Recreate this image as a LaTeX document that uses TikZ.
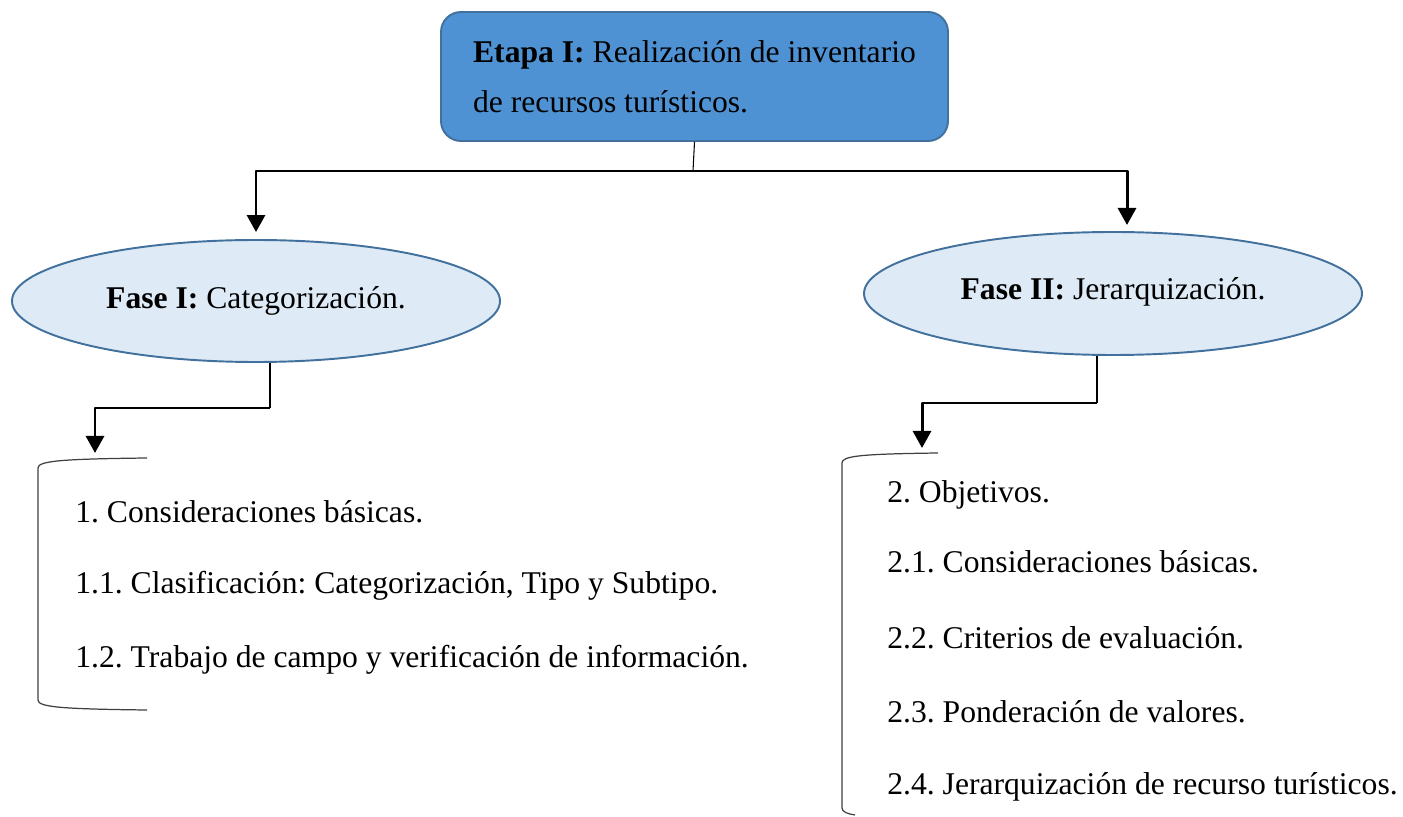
\documentclass[tikz,border=0pt]{standalone}
\usepackage{fontspec}
\setmainfont{Liberation Serif}
\usetikzlibrary{shapes.geometric,arrows.meta}
\definecolor{azul}{HTML}{4F92D3}
\definecolor{azulborde}{HTML}{41719C}
\definecolor{celeste}{HTML}{DEEAF6}
\frenchspacing
\tikzset{
  etapa/.style={draw=azulborde,line width=1.1pt,fill=azul,rounded corners=4mm,minimum width=101.4mm,minimum height=25.8mm,align=left,inner sep=0pt},
  fase/.style={ellipse,draw=azulborde,line width=1.1pt,fill=celeste,inner sep=0pt},
  item/.style={anchor=base west,inner sep=0pt},
  tallo/.style={line width=0.6pt},
  flecha/.style={line width=1.7pt,-{Triangle[length=3.4mm,width=3.6mm]},shorten >=1.4mm},
  llave/.style={line width=0.7pt,draw=black!75}
}
\begin{document}
\begin{tikzpicture}[x=0.2mm,y=-0.2mm,font=\fontsize{18}{28.5}\selectfont,line join=round]
\useasboundingbox (0,0) rectangle (1403,817);
\node[etapa] (etapa) at (694.5,76.5) {\textbf{Etapa I:} Realización de inventario\\de recursos turísticos.};
\node[fase,minimum width=97.6mm,minimum height=24.4mm] (fase1) at (256,301) {\textbf{Fase I:} Categorización.};
\node[fase,minimum width=99.6mm,minimum height=24.6mm] (fase2) at (1113,293.5) {\raisebox{2mm}{\textbf{Fase II:} Jerarquización.}};
\path
(693,171) coordinate (bar)
(1127,232) coordinate (f2)
(270,408) coordinate (c1)
(95,460) coordinate (b1)
(1097,403) coordinate (c2)
(922,455) coordinate (b2)
;
\draw[tallo] (etapa.south) -- (bar);
\draw[flecha] (bar) -| (fase1.north);
\draw[flecha] (bar) -| (f2);
\draw[tallo] (fase1.south -| c1) -- (c1);
\draw[flecha] (c1) -| (b1);
\draw[tallo] (fase2.south -| c2) -- (c2);
\draw[flecha] (c2) -| (b2);
\draw[llave] (147,458) .. controls (60,459) and (38,461) .. (38,468) -- (38,700) .. controls (38,707) and (60,709) .. (147,710);
\draw[llave] (938,453) .. controls (860,454) and (842,456) .. (842,463) -- (842,808) .. controls (842,812) and (848,814) .. (855,815);
\node[item] (l1) at (75,523) {1. Consideraciones básicas.};
\node[item] (l2) at (75,594) {1.1. Clasificación: Categorización, Tipo y Subtipo.};
\node[item] (l3) at (75,667) {1.2. Trabajo de campo y verificación de información.};
\node[item] (r1) at (887,503) {2. Objetivos.};
\node[item] (r2) at (887,573) {2.1. Consideraciones básicas.};
\node[item] (r3) at (887,648) {2.2. Criterios de evaluación.};
\node[item] (r4) at (887,722) {2.3. Ponderación de valores.};
\node[item] (r5) at (887,794) {2.4. Jerarquización de recurso turísticos.};
\end{tikzpicture}
\end{document}
